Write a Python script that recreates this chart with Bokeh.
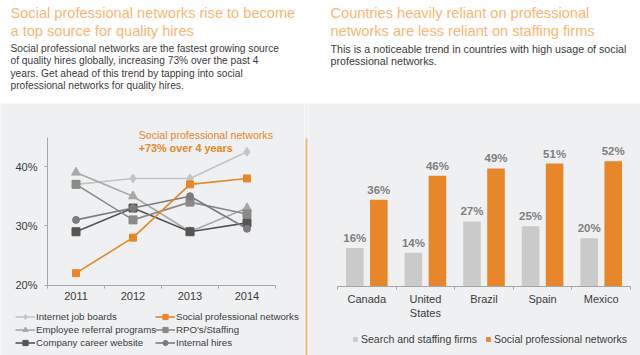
from bokeh.plotting import figure
from bokeh.models import (Range1d, FixedTicker, PrintfTickFormatter, Legend, LegendItem,
                          Label, LabelSet, ColumnDataSource, BoxAnnotation)
from bokeh.layouts import column, row
from bokeh.transform import dodge
from bokeh.core.properties import value
from bokeh.embed import file_html
from bokeh.resources import INLINE

# ---------------- data ----------------
left_title = ["Social professional networks rise to become", "a top source for quality hires"]
left_body = ["Social professional networks are the fastest growing source",
             "of quality hires globally, increasing 73% over the past 4",
             "years. Get ahead of this trend by tapping into social",
             "professional networks for quality hires."]
right_title = ["Countries heavily reliant on professional", "networks are less reliant on staffing firms"]
right_body = ["This is a noticeable trend in countries with high usage of social",
              "professional networks."]

years = [2011, 2012, 2013, 2014]
internet_job_boards = [37, 38, 38, 42.5]
employee_referral = [39, 35, 29, 33]
company_career = [29, 33, 29, 30.5]
social_professional = [22, 28, 37, 38]
rpo_staffing = [37, 31, 34, 32]
internal_hires = [31, 33, 35, 29.5]
y_ticks = [20, 30, 40]
y_axis_span = (20, 45)
annotation_lines = ["Social professional networks", "+73% over 4 years"]

countries = ["Canada", "United\nStates", "Brazil", "Spain", "Mexico"]
search_staffing = [16, 14, 27, 25, 20]
social_networks = [36, 46, 49, 51, 52]

# ---------------- styles ----------------
FONT = "Liberation Sans"
GRAY_BG = "#EEF0F2"
TITLE_C = "#F9B675"
TEXT_C = "#3C3C3C"
ORANGE = "#E8862A"
AXIS_C = "#A6A6A6"
NO_BORDER = dict(min_border=0, min_border_left=0, min_border_right=0,
                 min_border_top=0, min_border_bottom=0)

# ---------------- top text band ----------------
top = figure(width=640, height=103, x_range=Range1d(0, 640), y_range=Range1d(103, 0),
             x_axis_location=None, y_axis_location=None, toolbar_location=None,
             output_backend="svg", outline_line_color=None,
             background_fill_color="white", border_fill_color="white", **NO_BORDER)
top.grid.visible = False


def block(xpos, titles, bodies, body_size):
    top.text(x=[xpos] * len(titles), y=[12 + 18 * i for i in range(len(titles))], text=titles,
             text_font=value(FONT), text_font_size="14.6px", text_color=TITLE_C,
             text_baseline="middle", text_align="left")
    top.text(x=[xpos] * len(bodies), y=[48 + 12.4 * i for i in range(len(bodies))], text=bodies,
             text_font=value(FONT), text_font_size=body_size, text_color=TEXT_C,
             text_baseline="middle", text_align="left")


block(10, left_title, left_body, "10.2px")
block(330, right_title, right_body, "10.7px")

# ---------------- left line chart (frame covers the whole panel) ----------------
LW, LH = 304, 252
L_AX_LEFT, L_AX_RIGHT, L_AX_BOTTOM = 47, 275, 181.5      # pixel layout inside the panel
XPX = (L_AX_RIGHT - L_AX_LEFT) / (years[-1] - years[0] + 1)
YPX = 5.92
lx0 = years[0] - 0.5 - L_AX_LEFT / XPX
lx1 = years[-1] + 0.5 + (LW - L_AX_RIGHT) / XPX
ly1 = y_axis_span[0] + L_AX_BOTTOM / YPX
ly0 = y_axis_span[0] - (LH - L_AX_BOTTOM) / YPX

lp = figure(width=LW, height=LH, x_range=Range1d(lx0, lx1), y_range=Range1d(ly0, ly1),
            toolbar_location=None, output_backend="svg",
            background_fill_color=GRAY_BG, border_fill_color=GRAY_BG, outline_line_color=None,
            **NO_BORDER)
lp.grid.visible = False
lp.xaxis.fixed_location = y_axis_span[0]
lp.xaxis.bounds = (years[0] - 0.5, years[-1] + 0.5)
lp.xaxis.ticker = FixedTicker(ticks=years, minor_ticks=[y - 0.5 for y in years] + [years[-1] + 0.5])
lp.xaxis.major_tick_line_color = None
lp.xaxis.major_tick_out = 0
lp.xaxis.minor_tick_out = 3
lp.xaxis.minor_tick_in = 0
lp.xaxis.minor_tick_line_color = AXIS_C
lp.xaxis.major_label_standoff = 4
lp.yaxis.fixed_location = years[0] - 0.5
lp.yaxis.bounds = y_axis_span
lp.yaxis.ticker = FixedTicker(ticks=y_ticks, minor_ticks=[])
lp.yaxis.formatter = PrintfTickFormatter(format="%d%%")
lp.yaxis.major_tick_out = 3
lp.yaxis.major_tick_in = 0
lp.yaxis.major_tick_line_color = AXIS_C
lp.yaxis.major_label_standoff = 7
for ax in (lp.xaxis, lp.yaxis):
    ax.axis_line_color = AXIS_C
    ax.major_label_text_font = FONT
    ax.major_label_text_font_size = "11px"
    ax.major_label_text_color = TEXT_C

series = [
    ("Internet job boards", internet_job_boards, "#C4C4C4", "diamond", 9),
    ("Employee referral programs", employee_referral, "#A8A8A8", "triangle", 9),
    ("Company career website", company_career, "#555555", "square", 8),
    ("RPO's/Staffing", rpo_staffing, "#8A8A8A", "square", 8),
    ("Internal hires", internal_hires, "#7C7C7C", "circle", 7),
    ("Social professional networks", social_professional, ORANGE, "square", 7),
]
items = {}
for name, vals, color, marker, size in series:
    src = ColumnDataSource(dict(x=years, y=vals))
    l = lp.line("x", "y", source=src, line_color=color, line_width=1.6)
    lp.scatter("x", "y", source=src, marker=marker, size=size, fill_color=color, line_color=color)
    # smaller copy hidden inside the marker above, used for the legend swatch
    s = lp.scatter("x", "y", source=src, marker=marker, size=size - 3, fill_color=color, line_color=color)
    items[name] = LegendItem(label=name, renderers=[l, s])

legend_cols = [["Internet job boards", "Employee referral programs", "Company career website"],
               ["Social professional networks", "RPO's/Staffing", "Internal hires"]]
for names, xloc in zip(legend_cols, (15, 155)):
    lg = Legend(items=[items[n] for n in names], location=(xloc, 6), orientation="vertical",
                glyph_width=20, glyph_height=13, label_height=13, label_standoff=1, spacing=0,
                padding=0, margin=0, background_fill_alpha=0, border_line_color=None,
                label_text_font=FONT, label_text_font_size="9.7px", label_text_color=TEXT_C)
    lp.add_layout(lg, "center")

lp.add_layout(Label(x=2012.1, y=45.4, text=annotation_lines[0], text_font=FONT,
                    text_font_size="10.6px", text_color=ORANGE, text_baseline="middle"))
lp.add_layout(Label(x=2012.1, y=43.2, text=annotation_lines[1], text_font=FONT,
                    text_font_size="10.8px", text_font_style="bold", text_color=ORANGE,
                    text_baseline="middle"))

# ---------------- divider ----------------
DW = 4
dv = figure(width=DW, height=LH, x_range=Range1d(0, DW), y_range=Range1d(0, LH),
            toolbar_location=None, output_backend="svg", x_axis_location=None,
            y_axis_location=None, background_fill_color=GRAY_BG, border_fill_color=GRAY_BG,
            outline_line_color=None, **NO_BORDER)
dv.grid.visible = False
dv.add_layout(BoxAnnotation(left=1, right=3, bottom=0, top=LH - 35, fill_color="#F7B77A",
                            fill_alpha=1, line_alpha=0))

# ---------------- right bar chart (frame covers the whole panel) ----------------
RW, RH = 332, 252
R_AX_LEFT, R_AX_RIGHT, R_AX_BOTTOM = 29, 322, 183
BPX = (R_AX_RIGHT - R_AX_LEFT) / len(countries)
VPX = 2.41
idx = [i + 0.5 for i in range(len(countries))]
bsrc = ColumnDataSource(dict(x=idx, a=search_staffing, b=social_networks,
                             at=[f"{v}%" for v in search_staffing],
                             bt=[f"{v}%" for v in social_networks]))
rp = figure(width=RW, height=RH,
            x_range=Range1d(-R_AX_LEFT / BPX, len(countries) + (RW - R_AX_RIGHT) / BPX),
            y_range=Range1d(-(RH - R_AX_BOTTOM) / VPX, R_AX_BOTTOM / VPX),
            toolbar_location=None, output_backend="svg",
            background_fill_color=GRAY_BG, border_fill_color=GRAY_BG, outline_line_color=None,
            y_axis_location=None, **NO_BORDER)
rp.grid.visible = False
ga = rp.vbar(x=dodge("x", -0.205), top="a", width=0.3, source=bsrc, fill_color="#CACACA", line_color=None)
gb = rp.vbar(x=dodge("x", 0.205), top="b", width=0.3, source=bsrc, fill_color=ORANGE, line_color=None)
for col, txt, off in (("a", "at", -0.205), ("b", "bt", 0.205)):
    rp.add_layout(LabelSet(x=dodge("x", off), y=col, text=txt, source=bsrc, y_offset=4,
                           text_align="center", text_baseline="bottom", text_font=value(FONT),
                           text_font_size="11.5px", text_font_style="bold", text_color="#7F7F7F"))
rp.xaxis.fixed_location = 0
rp.xaxis.bounds = (0, len(countries))
rp.xaxis.ticker = FixedTicker(ticks=idx, minor_ticks=list(range(len(countries) + 1)))
rp.xaxis.major_label_overrides = {v: c for v, c in zip(idx, countries)}
rp.xaxis.major_tick_line_color = None
rp.xaxis.major_tick_out = 0
rp.xaxis.minor_tick_out = 3
rp.xaxis.minor_tick_in = 0
rp.xaxis.minor_tick_line_color = AXIS_C
rp.xaxis.axis_line_color = AXIS_C
rp.xaxis.major_label_standoff = 3
rp.xaxis.major_label_text_font = FONT
rp.xaxis.major_label_text_font_size = "11px"
rp.xaxis.major_label_text_color = TEXT_C

rleg = Legend(items=[LegendItem(label="Search and staffing firms", renderers=[ga]),
                     LegendItem(label="Social professional networks", renderers=[gb])],
              location=(44, 10), orientation="horizontal", glyph_width=6, glyph_height=6,
              label_height=12, label_standoff=3, spacing=8, padding=0, margin=0,
              background_fill_alpha=0, border_line_color=None, label_text_font=FONT,
              label_text_font_size="10.5px", label_text_color=TEXT_C)
rp.add_layout(rleg, "center")

layout = column(top, row(lp, dv, rp))
open("out.html", "w").write(file_html(layout, INLINE))
